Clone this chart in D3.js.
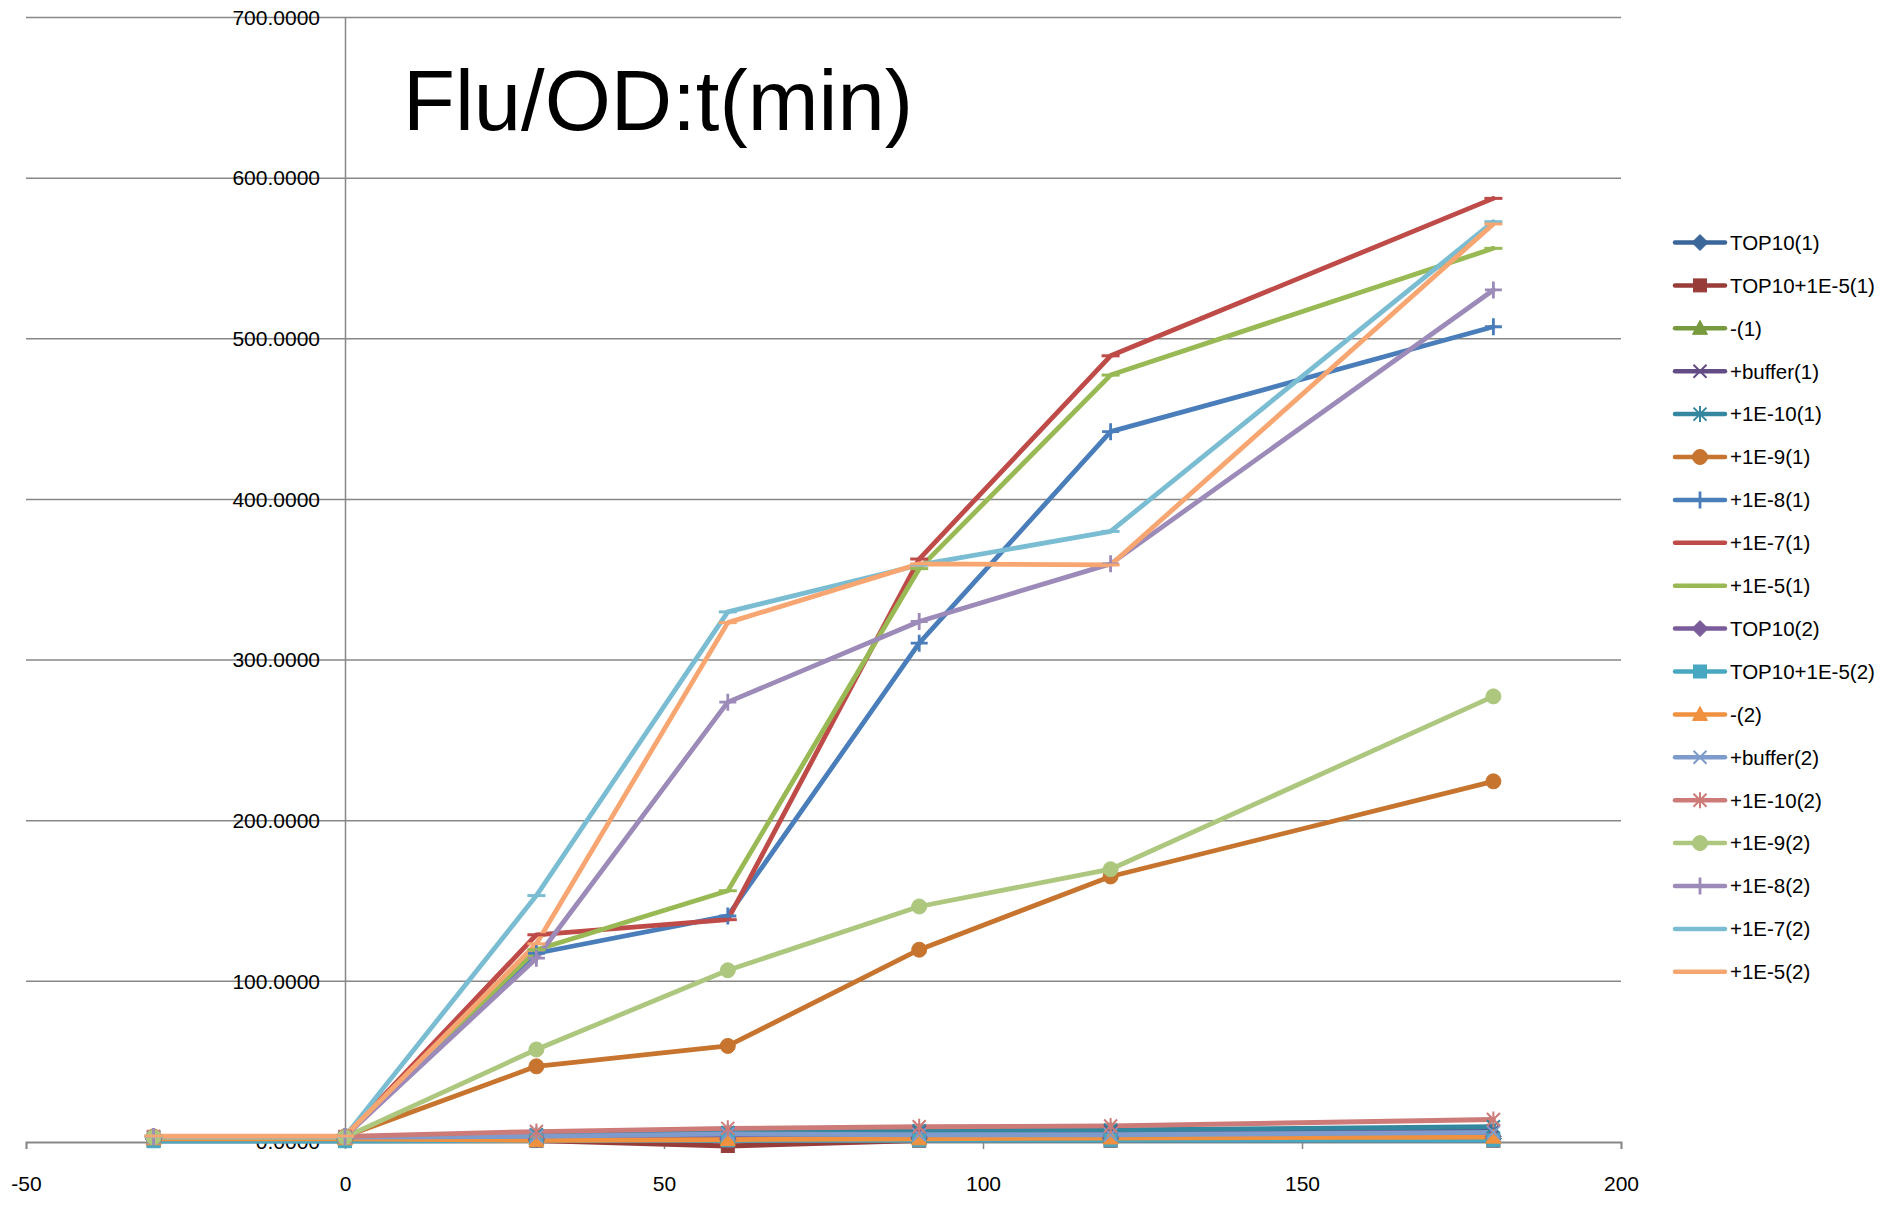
<!DOCTYPE html>
<html>
<head>
<meta charset="utf-8">
<script src="https://cdn.jsdelivr.net/npm/d3@7"></script>
<style>
  html, body { margin: 0; padding: 0; background: #fff; }
  svg { display: block; }
  text { font-family: "Liberation Sans", Arial, sans-serif; fill: #000; }
</style>
</head>
<body>
<svg id="chart" width="1885" height="1215"></svg>
<script>
// ---------- data ----------
const xValues = [-30, 0, 30, 60, 90, 120, 180];
const xTicks = [-50, 0, 50, 100, 150, 200];
const yTicks = [0, 100, 200, 300, 400, 500, 600, 700];
const titleText = "Flu/OD:t(min)";

const top10_1      = [1.5, 1.5, 1.2, 1.5, 2.0, 2.0, 2.2];
const top10e5_1    = [1.0, 1.0, 0.8, -2.5, 0.8, 0.8, 0.8];
const minus_1      = [2.5, 2.5, 2.0, 2.5, 2.5, 2.5, 3.0];
const buffer_1     = [3.0, 3.0, 4.0, 5.0, 6.0, 6.5, 7.0];
const e10_1        = [3.0, 3.0, 4.5, 6.0, 7.0, 7.5, 9.5];
const e9_1         = [3.5, 3.5, 47.1, 59.8, 119.7, 165.3, 224.5];
const e8_1         = [3.5, 3.5, 117.5, 140.7, 310.5, 442.2, 507.5];
const e7_1         = [3.5, 3.5, 129.0, 138.4, 362.9, 489.4, 587.4];
const e5_1         = [3.5, 3.5, 119.7, 156.4, 356.9, 477.4, 556.3];
const top10_2      = [2.0, 2.0, 2.0, 2.5, 3.0, 3.0, 3.5];
const top10e5_2    = [0.5, 0.5, 1.0, 1.0, 1.0, 1.0, 1.0];
const minus_2      = [2.0, 2.0, 1.0, 1.5, 2.0, 2.5, 3.0];
const buffer_2     = [3.0, 3.0, 3.5, 5.0, 4.5, 4.5, 6.0];
const e10_2        = [3.5, 3.5, 6.5, 8.5, 9.5, 10.0, 14.0];
const e9_2         = [3.0, 3.0, 57.6, 106.9, 146.6, 169.8, 277.4];
const e8_2         = [3.5, 3.5, 114.4, 273.8, 324.0, 359.9, 530.4];
const e7_2         = [3.5, 3.5, 153.4, 330.0, 359.2, 380.1, 572.9];
const e5_2         = [3.7, 3.7, 123.4, 323.3, 359.9, 359.2, 571.5];

const seriesNames = ["TOP10(1)", "TOP10+1E-5(1)", "-(1)", "+buffer(1)", "+1E-10(1)", "+1E-9(1)",
  "+1E-8(1)", "+1E-7(1)", "+1E-5(1)", "TOP10(2)", "TOP10+1E-5(2)", "-(2)", "+buffer(2)",
  "+1E-10(2)", "+1E-9(2)", "+1E-8(2)", "+1E-7(2)", "+1E-5(2)"];
const seriesValues = [top10_1, top10e5_1, minus_1, buffer_1, e10_1, e9_1, e8_1, e7_1, e5_1,
  top10_2, top10e5_2, minus_2, buffer_2, e10_2, e9_2, e8_2, e7_2, e5_2];

// ---------- styles ----------
const seriesColors = ["#3B6699", "#983C39", "#789A3E", "#634C86", "#33879E", "#C7742F",
  "#4A7EBB", "#BE4B48", "#98B954", "#7A5C9A", "#48A7C1", "#F0913F", "#7E9BCB",
  "#CC7B78", "#ADC77F", "#9C8AB9", "#7ABDD3", "#F7A671"];
const seriesMarkers = ["diamond", "square", "triangle", "x", "asterisk", "circle", "plus", "dash", "dash",
  "diamond", "square", "triangle", "x", "asterisk", "circle", "plus", "dash", "dash"];

const series = seriesNames.map((name, i) => ({
  name, color: seriesColors[i], marker: seriesMarkers[i],
  points: xValues.map((x, j) => ({ x, y: seriesValues[i][j] }))
}));

// ---------- scales ----------
const svg = d3.select("#chart");
const x = d3.scaleLinear().domain([-50, 200]).range([26, 1621]);
const y = d3.scaleLinear().domain([0, 700]).range([1142, 17.5]);
const gridColor = "#878787";

// gridlines
svg.append("g").selectAll("line").data(yTicks.filter(d => d > 0)).join("line")
  .attr("x1", x(-50)).attr("x2", x(200))
  .attr("y1", d => y(d)).attr("y2", d => y(d))
  .attr("stroke", gridColor).attr("stroke-width", 1.5);

// y axis (at x = 0)
const yAxis = d3.axisLeft(y).tickValues(yTicks).tickFormat(d3.format(".4f")).tickSize(0).tickPadding(25);
const gy = svg.append("g").attr("transform", `translate(${x(0)},0)`).call(yAxis);
gy.select(".domain").attr("stroke", gridColor).attr("stroke-width", 1.5);
gy.selectAll("text").attr("font-size", 21).attr("fill", "#000")
  .style("font-family", '"Liberation Sans", Arial, sans-serif');

// x axis (at y = 0)
const xAxis = d3.axisBottom(x).tickValues(xTicks).tickFormat(d => String(d)).tickSize(7).tickPadding(27).tickSizeOuter(7);
const gx = svg.append("g").attr("transform", `translate(0,${y(0)})`).call(xAxis);
gx.select(".domain").attr("stroke", gridColor).attr("stroke-width", 1.8);
gx.selectAll(".tick line").attr("stroke", gridColor).attr("stroke-width", 1.5);
gx.selectAll("text").attr("font-size", 21).attr("fill", "#000")
  .style("font-family", '"Liberation Sans", Arial, sans-serif');

// ---------- markers ----------
function drawMarker(g, type, color, cx, cy) {
  const m = g.append("g").attr("transform", `translate(${cx},${cy})`);
  switch (type) {
    case "diamond":
      m.append("path").attr("d", "M0,-8L8,0L0,8L-8,0Z").attr("fill", color).attr("stroke", color).attr("stroke-width", 1);
      break;
    case "square":
      m.append("rect").attr("x", -6.5).attr("y", -6.5).attr("width", 13).attr("height", 13)
        .attr("fill", color).attr("stroke", color).attr("stroke-width", 1);
      break;
    case "triangle":
      m.append("path").attr("d", "M0,-8L7.5,6L-7.5,6Z").attr("fill", color).attr("stroke", color).attr("stroke-width", 1);
      break;
    case "x":
      m.append("path").attr("d", "M-6.5,-6.5L6.5,6.5M-6.5,6.5L6.5,-6.5").attr("stroke", color).attr("stroke-width", 2).attr("fill", "none");
      break;
    case "asterisk":
      m.append("path").attr("d", "M-6.5,-6.5L6.5,6.5M-6.5,6.5L6.5,-6.5M0,-8L0,8").attr("stroke", color).attr("stroke-width", 2).attr("fill", "none");
      break;
    case "circle":
      m.append("circle").attr("r", 7.5).attr("fill", color).attr("stroke", color).attr("stroke-width", 1);
      break;
    case "plus":
      m.append("path").attr("d", "M0,-8.5L0,8.5M-8.5,0L8.5,0").attr("stroke", color).attr("stroke-width", 2.8).attr("fill", "none");
      break;
    case "dash":
      m.append("path").attr("d", "M-9,0L9,0").attr("stroke", color).attr("stroke-width", 3).attr("fill", "none");
      break;
  }
}

// ---------- lines (all lines first, then markers) ----------
const line = d3.line().x(d => x(d.x)).y(d => y(d.y));
const linesG = svg.append("g");
series.forEach(s => {
  linesG.append("path").datum(s.points).attr("d", line)
    .attr("fill", "none").attr("stroke", s.color).attr("stroke-width", 4.8)
    .attr("stroke-linejoin", "round").attr("stroke-linecap", "round");
});
const markersG = svg.append("g");
series.forEach(s => {
  s.points.forEach(p => drawMarker(markersG, s.marker, s.color, x(p.x), y(p.y)));
});

// ---------- title ----------
svg.append("text").attr("x", 403).attr("y", 130).attr("font-size", 85).text(titleText);

// ---------- legend ----------
const legend = svg.append("g");
series.forEach((s, i) => {
  const ly = 242.5 + i * 42.9;
  const g = legend.append("g");
  g.append("line").attr("x1", 1675).attr("x2", 1725).attr("y1", ly).attr("y2", ly)
    .attr("stroke", s.color).attr("stroke-width", 4.5).attr("stroke-linecap", "round");
  drawMarker(g, s.marker, s.color, 1700, ly);
  g.append("text").attr("x", 1730).attr("y", ly).attr("dy", "0.36em")
    .attr("font-size", 20.5).text(s.name);
});
</script>
</body>
</html>
